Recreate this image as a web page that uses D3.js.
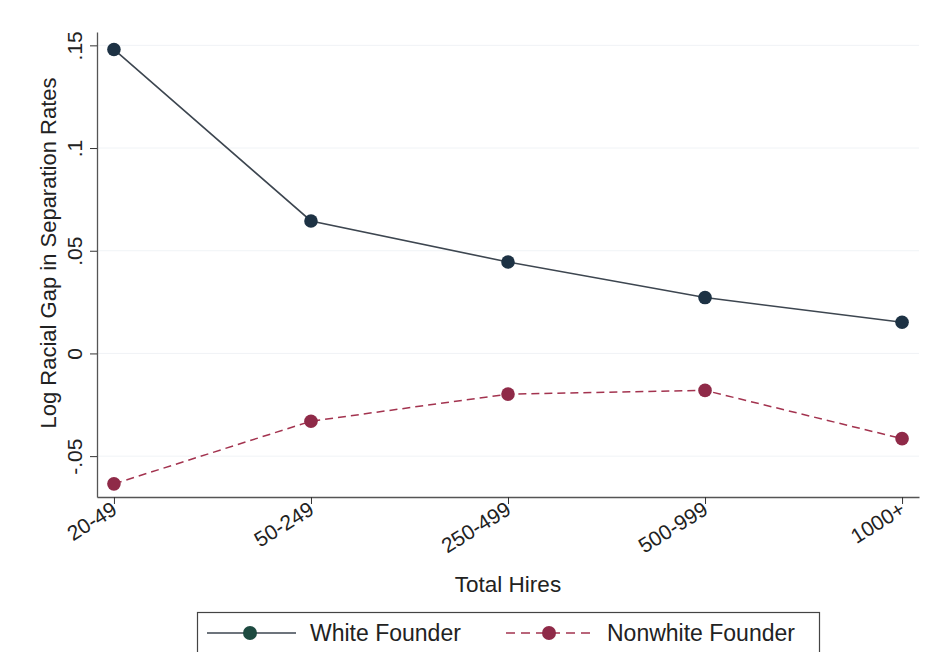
<!DOCTYPE html>
<html><head><meta charset="utf-8">
<script src="https://cdn.jsdelivr.net/npm/d3@7"></script>
<style>body{margin:0;background:#fff;}svg{display:block;font-family:"Liberation Sans",Arial,sans-serif;}</style>
</head><body>
<svg id="c" width="931" height="652"></svg>
<script>
const categories = ["20-49","50-249","250-499","500-999","1000+"];
const whiteFounder = [0.148, 0.0645, 0.0445, 0.0272, 0.0152];
const nonwhiteFounder = [-0.0635, -0.0330, -0.0198, -0.0180, -0.0415];
const yTicks = [-0.05, 0, 0.05, 0.1, 0.15];
const yTickLabels = ["-.05","0",".05",".1",".15"];
const seriesNames = ["White Founder","Nonwhite Founder"];

const svg = d3.select("#c");
const pL = 97, pR = 919, pT = 32, pB = 497;
const x = d3.scalePoint().domain(categories).range([pL, pR]).padding(0.086);
const y = d3.scaleLinear().domain([-0.0699, 0.1565]).range([pB, pT]);

// faint gridlines
svg.append("g").selectAll("line").data(yTicks).join("line")
  .attr("x1", pL+1).attr("x2", pR).attr("y1", d=>y(d)).attr("y2", d=>y(d))
  .attr("stroke", "#f0f3f6").attr("stroke-width", 1);

// y axis
const ya = svg.append("g").attr("transform", `translate(${pL},0)`)
  .call(d3.axisLeft(y).tickValues(yTicks).tickFormat((d,i)=>yTickLabels[i]).tickSize(7).tickSizeOuter(0));
ya.select(".domain").attr("stroke","#555").attr("stroke-width",1.3);
ya.selectAll(".tick line").attr("stroke","#333");
ya.selectAll(".tick text").attr("font-size",21).attr("fill","#222")
  .attr("transform","rotate(-90)").attr("text-anchor","middle").attr("x",0).attr("y",-15).attr("dy","0");

// x axis
const xa = svg.append("g").attr("transform", `translate(0,${pB})`)
  .call(d3.axisBottom(x).tickSize(7).tickSizeOuter(0));
xa.select(".domain").attr("stroke","#555").attr("stroke-width",1.3);
xa.selectAll(".tick line").attr("stroke","#333");
xa.selectAll(".tick text").attr("font-size",21).attr("fill","#222")
  .attr("text-anchor","end").attr("dy","0").attr("y",0)
  .attr("transform","translate(4,16) rotate(-32)");

// axis titles
svg.append("text").attr("transform","translate(56,253) rotate(-90)").attr("text-anchor","middle")
  .attr("font-size",22).attr("fill","#222").text("Log Racial Gap in Separation Rates");
svg.append("text").attr("x", 508).attr("y",592).attr("text-anchor","middle")
  .attr("font-size",22.5).attr("fill","#222").text("Total Hires");

const wLine = "#3d4650", wDot = "#1d3244";
const nLine = "#a3334f", nDot = "#8f2a48";

const line = d3.line().x((d,i)=>x(categories[i])).y(d=>y(d));
svg.append("path").datum(whiteFounder).attr("d",line).attr("fill","none").attr("stroke",wLine).attr("stroke-width",1.6);
svg.append("path").datum(nonwhiteFounder).attr("d",line).attr("fill","none").attr("stroke",nLine).attr("stroke-width",1.5).attr("stroke-dasharray","8,5");
svg.append("g").selectAll("circle").data(whiteFounder).join("circle")
  .attr("cx",(d,i)=>x(categories[i])).attr("cy",d=>y(d)).attr("r",6.8).attr("fill",wDot);
svg.append("g").selectAll("circle").data(nonwhiteFounder).join("circle")
  .attr("cx",(d,i)=>x(categories[i])).attr("cy",d=>y(d)).attr("r",6.8).attr("fill",nDot);

// legend
const lg = svg.append("g");
lg.append("rect").attr("x",197.5).attr("y",612.5).attr("width",622).attr("height",60)
  .attr("fill","#fff").attr("stroke","#444").attr("stroke-width",1.2);
const ly = 633;
lg.append("line").attr("x1",207).attr("x2",296).attr("y1",ly).attr("y2",ly).attr("stroke",wLine).attr("stroke-width",1.6);
lg.append("circle").attr("cx",250).attr("cy",ly).attr("r",7).attr("fill","#1d4a40");
lg.append("text").attr("x",310).attr("y",ly+8).attr("font-size",23).attr("fill","#222").text(seriesNames[0]);
lg.append("line").attr("x1",506).attr("x2",596).attr("y1",ly).attr("y2",ly).attr("stroke",nLine).attr("stroke-width",1.5).attr("stroke-dasharray","9,6");
lg.append("circle").attr("cx",549).attr("cy",ly).attr("r",7).attr("fill",nDot);
lg.append("text").attr("x",607).attr("y",ly+8).attr("font-size",23).attr("fill","#222").text(seriesNames[1]);
</script>
</body></html>
